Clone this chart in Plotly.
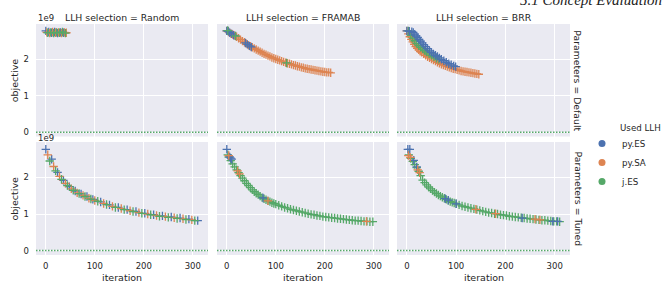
import plotly.graph_objects as go

# ---------------- data (objective in units of 1e9) ----------------
LLH = ["py.ES", "py.SA", "j.ES"]
COLORS = {"py.ES": "#4C72B0", "py.SA": "#DD8452", "j.ES": "#55A868"}
SELECTIONS = ["Random", "FRAMAB", "BRR"]
PARAMS = ["Default", "Tuned"]
X_TICKS = [0, 100, 200, 300]
Y_TICKS = [0, 1, 2]
Y_TICKTEXT = ["0", "1", "2"]
OPTIMUM = 0

# Random / Default
rd_es_x = [0, 6, 12, 18, 24, 30, 36]
rd_es_y = [2.78, 2.75, 2.73, 2.75, 2.72, 2.74, 2.73]
rd_sa_x = [2, 8, 14, 20, 26, 32, 38, 42]
rd_sa_y = [2.74, 2.72, 2.75, 2.73, 2.74, 2.72, 2.74, 2.73]
rd_j_x = [4, 10, 16, 22, 28, 34, 40]
rd_j_y = [2.73, 2.74, 2.72, 2.74, 2.73, 2.75, 2.72]

# FRAMAB / Default
fd_sa_x = [0, 4, 8, 12, 16, 20, 24, 28, 32, 36, 40, 44, 48, 52, 56, 60, 64, 68, 72, 76,
           80, 84, 88, 92, 96, 100, 104, 108, 112, 116, 120, 124, 128, 132, 136, 140, 144,
           148, 152, 156, 160, 164, 168, 172, 176, 180, 184, 188, 192, 196, 200, 204, 208, 212]
fd_sa_y = [2.78, 2.75, 2.71, 2.68, 2.65, 2.62, 2.58, 2.54, 2.50, 2.47,
           2.43, 2.39, 2.36, 2.33, 2.30, 2.27, 2.24, 2.21, 2.18, 2.15,
           2.13, 2.10, 2.08, 2.05, 2.03, 2.01, 1.99, 1.97, 1.95, 1.93,
           1.91, 1.89, 1.88, 1.86, 1.84, 1.83, 1.81, 1.80, 1.78, 1.77,
           1.75, 1.74, 1.73, 1.72, 1.71, 1.70, 1.69, 1.68, 1.67, 1.66,
           1.65, 1.64, 1.64, 1.63]
fd_es_x = [0, 3, 6, 10, 14, 38, 42, 46, 50]
fd_es_y = [2.78, 2.77, 2.73, 2.70, 2.66, 2.45, 2.41, 2.37, 2.34]
fd_j_x = [2, 18, 122]
fd_j_y = [2.79, 2.64, 1.90]

# BRR / Default
bd_es_x = [0, 5, 10, 13, 16, 19, 22, 25, 28, 31, 34, 38, 42, 46, 50, 54, 58, 62, 66, 70,
           75, 80, 85, 90, 95, 99]
bd_es_y = [2.78, 2.77, 2.76, 2.74, 2.69, 2.64, 2.60, 2.55, 2.50, 2.45, 2.40, 2.35, 2.29,
           2.23, 2.19, 2.15, 2.11, 2.08, 2.04, 2.00, 1.96, 1.92, 1.88, 1.85, 1.82, 1.80]
bd_sa_x = [0, 3, 6, 9, 12, 15, 18, 21, 24, 27, 30, 34, 38, 42, 46, 50, 54, 58, 62, 66,
           70, 74, 78, 82, 86, 90, 94, 98, 102, 106, 110, 114, 118, 122, 126, 130, 134,
           138, 142, 146]
bd_sa_y = [2.78, 2.70, 2.62, 2.55, 2.48, 2.41, 2.35, 2.30, 2.26, 2.22, 2.19,
           2.15, 2.11, 2.07, 2.04, 2.01, 1.98, 1.95, 1.92, 1.89, 1.86, 1.84, 1.82, 1.80,
           1.78, 1.76, 1.74, 1.73, 1.71, 1.70, 1.68, 1.67, 1.66, 1.65, 1.64, 1.63, 1.62,
           1.61, 1.60, 1.59]
bd_j_x = [3, 8, 12, 16, 20, 24, 28, 32, 36, 40, 45, 50, 55, 60, 65]
bd_j_y = [2.78, 2.66, 2.58, 2.51, 2.44, 2.38, 2.33, 2.28, 2.24, 2.20, 2.15, 2.11, 2.07,
          2.03, 2.00]

# Random / Tuned
rt_es_x = [0, 12, 24, 36, 48, 60, 72, 84, 96, 112, 130, 148, 166, 184, 202, 220, 238,
           256, 274, 292, 310]
rt_es_y = [2.77, 2.50, 2.14, 1.92, 1.75, 1.63, 1.55, 1.48, 1.40, 1.33, 1.25, 1.18, 1.12,
           1.07, 1.02, 0.98, 0.95, 0.92, 0.89, 0.86, 0.82]
rt_sa_x = [4, 16, 28, 40, 52, 64, 76, 88, 100, 118, 136, 154, 172, 190, 208, 226, 244,
           262, 280, 298]
rt_sa_y = [2.62, 2.30, 2.03, 1.84, 1.69, 1.58, 1.51, 1.43, 1.37, 1.29, 1.21, 1.15, 1.09,
           1.04, 1.00, 0.96, 0.93, 0.90, 0.87, 0.84]
rt_j_x = [8, 20, 32, 44, 56, 68, 80, 92, 106, 124, 142, 160, 178, 196, 214, 232, 250,
          268, 286, 304]
rt_j_y = [2.45, 2.18, 1.95, 1.78, 1.65, 1.56, 1.48, 1.41, 1.35, 1.26, 1.18, 1.12, 1.07,
          1.02, 0.98, 0.94, 0.91, 0.88, 0.85, 0.82]

# FRAMAB / Tuned
ft_j_x = [2, 4, 8, 12, 16, 20, 24, 28, 32, 36, 40, 44, 48, 52, 56, 60, 64, 68, 72, 76,
          80, 84, 88, 92, 96, 100, 106, 112, 118, 124, 130, 136, 142, 148, 154, 160, 166,
          172, 178, 184, 190, 196, 202, 208, 214, 220, 226, 232, 238, 244, 250, 256, 262,
          268, 274, 280, 286, 292, 298]
ft_j_y = [2.62, 2.56, 2.46, 2.37, 2.29, 2.21, 2.13, 2.05, 1.98, 1.91, 1.84, 1.78, 1.72,
          1.66, 1.61, 1.57, 1.53, 1.49, 1.45, 1.42, 1.39, 1.36, 1.34, 1.31, 1.29, 1.27,
          1.24, 1.21, 1.18, 1.16, 1.13, 1.11, 1.09, 1.07, 1.05, 1.03, 1.01, 0.99, 0.98,
          0.96, 0.95, 0.93, 0.92, 0.91, 0.90, 0.89, 0.88, 0.87, 0.86, 0.85, 0.84, 0.83,
          0.82, 0.82, 0.81, 0.80, 0.80, 0.79, 0.79]
ft_es_x = [0, 6, 8, 10, 74]
ft_es_y = [2.77, 2.56, 2.53, 2.50, 1.44]
ft_sa_x = [4, 22, 26, 84, 285]
ft_sa_y = [2.60, 2.18, 2.10, 1.36, 0.80]

# BRR / Tuned
bt_j_x = [4, 8, 12, 16, 20, 24, 28, 32, 36, 40, 44, 48, 52, 56, 60, 64, 68, 72, 76, 80,
          84, 88, 92, 96, 100, 106, 112, 118, 124, 130, 136, 142, 148, 154, 160, 166, 172,
          178, 184, 190, 196, 202, 208, 214, 220, 226, 232, 238, 244, 250, 256, 262, 268,
          274, 280, 286, 292, 298, 304, 310]
bt_j_y = [2.62, 2.52, 2.44, 2.35, 2.27, 2.17, 2.05, 1.93, 1.86, 1.80, 1.74, 1.69, 1.64,
          1.60, 1.56, 1.52, 1.49, 1.46, 1.43, 1.40, 1.37, 1.34, 1.32, 1.30, 1.28,
          1.25, 1.22, 1.20, 1.18, 1.16, 1.14, 1.12, 1.10, 1.08, 1.06, 1.04, 1.03, 1.01,
          1.00, 0.98, 0.97, 0.96, 0.94, 0.93, 0.92, 0.91, 0.90, 0.89, 0.88, 0.87, 0.86,
          0.85, 0.84, 0.83, 0.83, 0.82, 0.81, 0.80, 0.80, 0.79]
bt_es_x = [2, 6, 14, 20, 78, 84, 100, 234, 296, 306]
bt_es_y = [2.77, 2.77, 2.47, 2.29, 1.42, 1.38, 1.28, 0.89, 0.80, 0.80]
bt_sa_x = [3, 7, 22, 26, 140, 180, 260, 270]
bt_sa_y = [2.60, 2.55, 2.21, 2.13, 1.13, 1.01, 0.86, 0.84]

# panel -> list of (llh, x, y) in drawing order
PANELS = {
    ("Default", "Random"): [("py.ES", rd_es_x, rd_es_y), ("py.SA", rd_sa_x, rd_sa_y), ("j.ES", rd_j_x, rd_j_y)],
    ("Default", "FRAMAB"): [("py.SA", fd_sa_x, fd_sa_y), ("py.ES", fd_es_x, fd_es_y), ("j.ES", fd_j_x, fd_j_y)],
    ("Default", "BRR"): [("py.SA", bd_sa_x, bd_sa_y), ("j.ES", bd_j_x, bd_j_y), ("py.ES", bd_es_x, bd_es_y)],
    ("Tuned", "Random"): [("py.ES", rt_es_x, rt_es_y), ("py.SA", rt_sa_x, rt_sa_y), ("j.ES", rt_j_x, rt_j_y)],
    ("Tuned", "FRAMAB"): [("j.ES", ft_j_x, ft_j_y), ("py.ES", ft_es_x, ft_es_y), ("py.SA", ft_sa_x, ft_sa_y)],
    ("Tuned", "BRR"): [("j.ES", bt_j_x, bt_j_y), ("py.ES", bt_es_x, bt_es_y), ("py.SA", bt_sa_x, bt_sa_y)],
}

# ---------------- layout geometry ----------------
W, H = 666, 284
ML, MR, MT, MB = 36, 96, 24, 29
PW, PH = W - ML - MR, H - MT - MB


def px_x(p):
    return (p - ML) / PW


def px_y(p):
    return (H - MB - p) / PH


X_DOMAINS = [[px_x(36), px_x(208)], [px_x(217), px_x(389)], [px_x(397), px_x(570)]]
Y_DOMAINS = [[px_y(136.5), px_y(24)], [px_y(255), px_y(142)]]

TEXT = "#262626"
FONT = "DejaVu Sans"
BG = "#EAEAF2"

fig = go.Figure()
layout = dict(
    width=W, height=H, autosize=False,
    margin=dict(l=ML, r=MR, t=MT, b=MB, pad=0),
    paper_bgcolor="white", plot_bgcolor=BG,
    font=dict(family=FONT, size=9, color=TEXT),
    showlegend=True,
    legend=dict(x=px_x(582), y=px_y(129), xanchor="left", yanchor="top",
                bgcolor="rgba(0,0,0,0)", font=dict(size=8.7, color=TEXT),
                tracegroupgap=0, itemwidth=30),
)

annotations = []
shapes = []
for r, prm in enumerate(PARAMS):
    for c, sel in enumerate(SELECTIONS):
        k = r * 3 + c + 1
        xa = "x" if k == 1 else f"x{k}"
        ya = "y" if k == 1 else f"y{k}"
        for llh, xs, ys in PANELS[(prm, sel)]:
            fig.add_trace(go.Scatter(
                x=xs, y=ys, mode="markers", xaxis=xa, yaxis=ya, showlegend=False,
                marker=dict(symbol="cross-thin", size=6, color=COLORS[llh],
                            line=dict(width=1.3, color=COLORS[llh])),
                hoverinfo="skip"))
        layout[f"xaxis{'' if k == 1 else k}"] = dict(
            domain=X_DOMAINS[c], anchor=ya, range=[-20, 331], tickvals=X_TICKS,
            showticklabels=(r == 1), showgrid=True, gridcolor="white", gridwidth=1,
            zeroline=False, showline=False, ticks="", ticklabelstandoff=4,
            tickfont=dict(size=8.5, color=TEXT))
        layout[f"yaxis{'' if k == 1 else k}"] = dict(
            domain=Y_DOMAINS[r], anchor=xa, range=[-0.12, 2.97], tickvals=Y_TICKS,
            ticktext=Y_TICKTEXT, showticklabels=(c == 0), showgrid=True,
            gridcolor="white", gridwidth=1, zeroline=False, showline=False, ticks="",
            ticklabelstandoff=6, tickfont=dict(size=8.5, color=TEXT))
        shapes.append(dict(type="line", xref=f"{xa} domain", yref=ya, x0=0, x1=1,
                           y0=OPTIMUM, y1=OPTIMUM,
                           line=dict(color=COLORS["j.ES"], width=1.5, dash="1.5px,1.5px")))

# column titles and x-axis titles
for c, sel in enumerate(SELECTIONS):
    cx = (X_DOMAINS[c][0] + X_DOMAINS[c][1]) / 2
    annotations.append(dict(text=f"LLH selection = {sel}", x=cx, y=px_y(17), xref="paper",
                            yref="paper", showarrow=False, font=dict(size=9.3, color=TEXT),
                            xanchor="center", yanchor="middle"))
    annotations.append(dict(text="iteration", x=cx, y=px_y(277.5), xref="paper",
                            yref="paper", showarrow=False, font=dict(size=9.5, color=TEXT),
                            xanchor="center", yanchor="middle"))

# row labels, y titles, offset labels
for r, prm in enumerate(PARAMS):
    cy = (Y_DOMAINS[r][0] + Y_DOMAINS[r][1]) / 2
    annotations.append(dict(text=f"Parameters = {prm}", x=px_x(578), y=cy, xref="paper",
                            yref="paper", showarrow=False, textangle=90,
                            font=dict(size=9.3, color=TEXT), xanchor="center",
                            yanchor="middle"))
    annotations.append(dict(text="objective", x=px_x(14), y=cy, xref="paper",
                            yref="paper", showarrow=False, textangle=-90,
                            font=dict(size=9.5, color=TEXT), xanchor="center",
                            yanchor="middle"))
    annotations.append(dict(text="1e9", x=px_x(36), y=px_y([18.3, 137.7][r]), xref="paper",
                            yref="paper", showarrow=False, font=dict(size=8.5, color=TEXT),
                            xanchor="left", yanchor="middle"))

annotations.append(dict(text="Used LLH", x=px_x(618), y=px_y(128), xref="paper",
                        yref="paper", showarrow=False, font=dict(size=8.7, color=TEXT),
                        xanchor="left", yanchor="middle"))
annotations.append(dict(text="<i>5.1 Concept Evaluation</i>", x=px_x(518), y=px_y(10),
                        xref="paper", yref="paper", showarrow=False,
                        font=dict(size=15, color="#222222", family="Liberation Serif"),
                        xanchor="left", yanchor="bottom"))

# legend entries (circle swatches)
for llh in LLH:
    fig.add_trace(go.Scatter(x=[None], y=[None], mode="markers", name=llh,
                             marker=dict(symbol="circle", size=7, color=COLORS[llh])))

layout["annotations"] = annotations
layout["shapes"] = shapes
fig.update_layout(**layout)
fig.write_html("out.html")
